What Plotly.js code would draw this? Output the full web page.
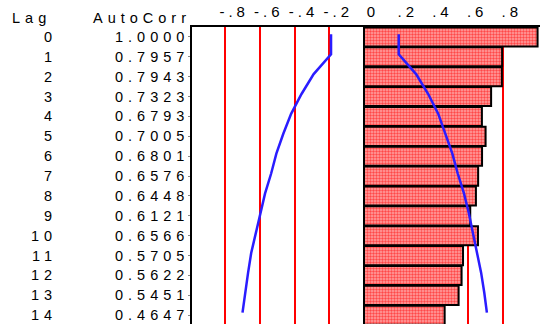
<!DOCTYPE html>
<html>
<head>
<meta charset="utf-8">
<script src="https://cdn.plot.ly/plotly-3.0.1.min.js"></script>
<style>
  html, body { margin: 0; padding: 0; background: #fff; overflow: hidden; }
  #chart { width: 540px; height: 324px; }
  .annotation-text { letter-spacing: 5px; }
  .xtick text { letter-spacing: 4px; }
</style>
</head>
<body>
<div id="chart"></div>
<script>
// ---- data ----
const lags = [0, 1, 2, 3, 4, 5, 6, 7, 8, 9, 10, 11, 12, 13, 14];
const autoCorr = [1.0000, 0.7957, 0.7943, 0.7323, 0.6793, 0.7005, 0.6801, 0.6576,
                  0.6448, 0.6121, 0.6566, 0.5705, 0.5622, 0.5451, 0.4647];
const autoCorrText = ["1.0000", "0.7957", "0.7943", "0.7323", "0.6793", "0.7005", "0.6801", "0.6576",
                      "0.6448", "0.6121", "0.6566", "0.5705", "0.5622", "0.5451", "0.4647"];
const limitUpper = [0.200, 0.200, 0.300, 0.370, 0.428, 0.470, 0.509, 0.540,
                    0.576, 0.604, 0.628, 0.655, 0.675, 0.693, 0.708];
const limitLower = [-0.190, -0.190, -0.290, -0.360, -0.420, -0.465, -0.505, -0.535,
                    -0.570, -0.598, -0.622, -0.650, -0.668, -0.685, -0.700];
const tickVals = [-0.8, -0.6, -0.4, -0.2, 0, 0.2, 0.4, 0.6, 0.8];
const tickText = ["-.8", "-.6", "-.4", "-.2", "0", ".2", ".4", ".6", ".8"];
const headerLag = "Lag";
const headerAC = "AutoCorr";

// ---- styling ----
const FONT = "Liberation Sans, Arial, sans-serif";
const FS = 14.5;
const lineOffset = -0.13; // limit curve drawn slightly above row centre

const traces = [
  {
    type: "bar",
    orientation: "h",
    x: autoCorr,
    y: lags,
    width: 0.96,
    marker: {
      color: "#ff8080",
      line: { color: "#000", width: 2 },
      pattern: { shape: ".", fgcolor: "#ff4848", bgcolor: "#ffa4a4", size: 3, solidity: 0.5, fillmode: "replace" }
    },
    hoverinfo: "skip",
    showlegend: false
  },
  {
    type: "scatter",
    mode: "lines",
    x: limitUpper,
    y: lags.map(v => v + lineOffset),
    line: { color: "#2a1cff", width: 2.5 },
    hoverinfo: "skip",
    showlegend: false
  },
  {
    type: "scatter",
    mode: "lines",
    x: limitLower,
    y: lags.map(v => v + lineOffset),
    line: { color: "#2a1cff", width: 2.5 },
    hoverinfo: "skip",
    showlegend: false
  }
];

const annotations = [];
const px = p => (p - 192) / 348;
lags.forEach((lag, i) => {
  annotations.push({
    xref: "paper", yref: "y", x: px(59), y: lag, xanchor: "right", yanchor: "middle",
    text: String(lag), showarrow: false, font: { family: FONT, size: FS, color: "#000" }
  });
  annotations.push({
    xref: "paper", yref: "y", x: px(191), y: lag, xanchor: "right", yanchor: "middle",
    text: autoCorrText[i], showarrow: false, font: { family: FONT, size: FS, color: "#000" }
  });
});
annotations.push({
  xref: "paper", yref: "paper", x: px(53), y: 1.03, xanchor: "right", yanchor: "middle",
  text: headerLag, showarrow: false, font: { family: FONT, size: FS, color: "#000" }
});
annotations.push({
  xref: "paper", yref: "paper", x: px(193), y: 1.03, xanchor: "right", yanchor: "middle",
  text: headerAC, showarrow: false, font: { family: FONT, size: FS, color: "#000" }
});

const layout = {
  width: 540,
  height: 324,
  margin: { l: 192, r: 0, t: 27, b: 0, pad: 0 },
  paper_bgcolor: "#fff",
  plot_bgcolor: "#fff",
  showlegend: false,
  bargap: 0,
  xaxis: {
    side: "top",
    range: [-0.991, 1.014],
    tickvals: tickVals,
    ticktext: tickText,
    ticks: "",
    ticklabelshift: 9,
    ticklabelstandoff: 2,
    tickfont: { family: FONT, size: 15, color: "#000" },
    showgrid: true,
    gridcolor: "#ff0000",
    gridwidth: 2,
    zeroline: false,
    showline: true,
    linecolor: "#000",
    linewidth: 2,
    fixedrange: true
  },
  yaxis: {
    range: [14.44, -0.5],
    showticklabels: false,
    tickvals: lags,
    ticks: "outside",
    ticklen: 2,
    tickcolor: "#888",
    showgrid: false,
    zeroline: false,
    showline: true,
    linecolor: "#000",
    linewidth: 2,
    fixedrange: true
  },
  shapes: [
    { type: "line", xref: "x", yref: "paper", x0: 0, x1: 0, y0: 0, y1: 1, layer: "below",
      line: { color: "#000", width: 1.5 } }
  ],
  annotations: annotations
};

Plotly.newPlot("chart", traces, layout, { displayModeBar: false, staticPlot: true });
</script>
</body>
</html>
